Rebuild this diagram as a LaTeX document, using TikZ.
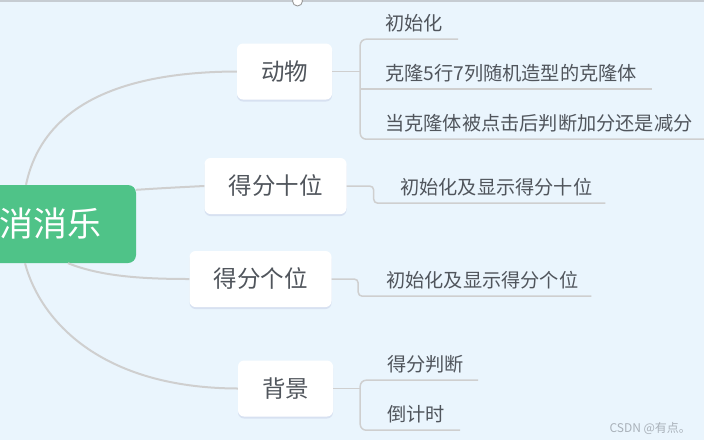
\documentclass[tikz,border=0pt]{standalone}
\usepackage{fontspec}
\setmainfont{Noto Sans CJK SC}
\usepackage{xcolor}
\usepackage{tikz}
\usetikzlibrary{shadows,positioning}
\definecolor{bgblue}{HTML}{EAF5FD}
\definecolor{rootgreen}{HTML}{4FC388}
\definecolor{linegray}{HTML}{CFCFCF}
\definecolor{textgray}{HTML}{50555C}
\definecolor{topgray}{HTML}{C6CCD2}
\definecolor{markgray}{HTML}{A9B1B9}

\begin{document}
\begin{tikzpicture}[
  x=1pt,
  y=-1pt,
  root/.style={rectangle, rounded corners=8pt, fill=rootgreen, text=white, minimum width=172pt, minimum height=78pt, font=\fontsize{34}{40}\selectfont},
  topic/.style={rectangle, rounded corners=6pt, fill=white, text=textgray, minimum height=56pt, inner xsep=24pt, font=\fontsize{23.5}{28}\selectfont, drop shadow={shadow xshift=0pt, shadow yshift=-2pt, opacity=0.08, fill=blue!40!black}},
  leaf/.style={inner xsep=0pt, inner ysep=6.5pt, text height=17pt, text depth=2pt, text=textgray, font=\fontsize{19.2}{23}\selectfont},
  branch/.style={draw=linegray, line width=2pt},
  twig/.style={draw=linegray, line width=1.5pt},
  handle/.style={circle, draw=gray!80, fill=white, line width=0.9pt, minimum size=10pt, inner sep=0pt},
  wmark/.style={text=markgray, font=\fontsize{12}{14}\selectfont}
]
\useasboundingbox (0,0) rectangle (704,440);
\fill[bgblue] (0,0) rectangle (704,440);
\draw[topgray, line width=1.5pt] (0,1) -- (704,1);
\node[handle] (h) at (297.5,1) {};

\node[root] (root) at (50,224) {消消乐};

\node[topic] (a) at (284.5,71.5) {动物};
\node[topic] (s) at (275.5,186) {得分十位};
\node[topic] (g) at (260.5,279) {得分个位};
\node[topic] (b) at (285.5,388.5) {背景};

\draw[branch] ([xshift=-24]root.north) .. controls (40,118) and (100,72) .. (a.west);
\draw[branch] ([yshift=-5]root.north east) .. controls (165,188) .. (s.west);
\draw[branch] ([xshift=18]root.south) .. controls (100,276) and (140,279) .. (g.west);
\draw[branch] ([xshift=-25]root.south) .. controls (40,320) and (100,388) .. (b.west);

\node[leaf, anchor=west] (a1) at (385,23) {初始化};
\node[leaf, anchor=west] (a2) at (385,73) {克隆5行7列随机造型的克隆体};
\node[leaf, anchor=west] (a3) at (385,123) {当克隆体被点击后判断加分还是减分};
\coordinate (aj) at ([xshift=28]a.east);
\draw[twig] (a.east) -- (aj);
\draw[twig, rounded corners=6pt] ([xshift=15]a1.south east) -- (a1.south -| aj) -- (a3.south -| aj) -- ([xshift=15]a3.south east);
\draw[twig] (a2.south -| aj) -- ([xshift=15]a2.south east);

\node[leaf, anchor=west] (s1) at (400,187) {初始化及显示得分十位};
\coordinate (sj) at ([xshift=27]s.east);
\draw[twig, rounded corners=4pt] (s.east) -- (sj) -- (s1.south -| sj) -- ([xshift=13]s1.south east);

\node[leaf, anchor=west] (g1) at (386,280) {初始化及显示得分个位};
\coordinate (gj) at ([xshift=26.5]g.east);
\draw[twig, rounded corners=4pt] (g.east) -- (gj) -- (g1.south -| gj) -- ([xshift=13]g1.south east);

\node[leaf, anchor=west] (b1) at (387,364) {得分判断};
\node[leaf, anchor=west] (b2) at (387,414) {倒计时};
\coordinate (bj) at ([xshift=27]b.east);
\draw[twig] (b.east) -- (bj);
\draw[twig, rounded corners=6pt] ([xshift=14]b1.south east) -- (b1.south -| bj) -- (b2.south -| bj) -- ([xshift=15]b2.south east);

\node[wmark, anchor=west] (csdn) at (606,428) {CSDN @有点。};
\end{tikzpicture}
\end{document}
